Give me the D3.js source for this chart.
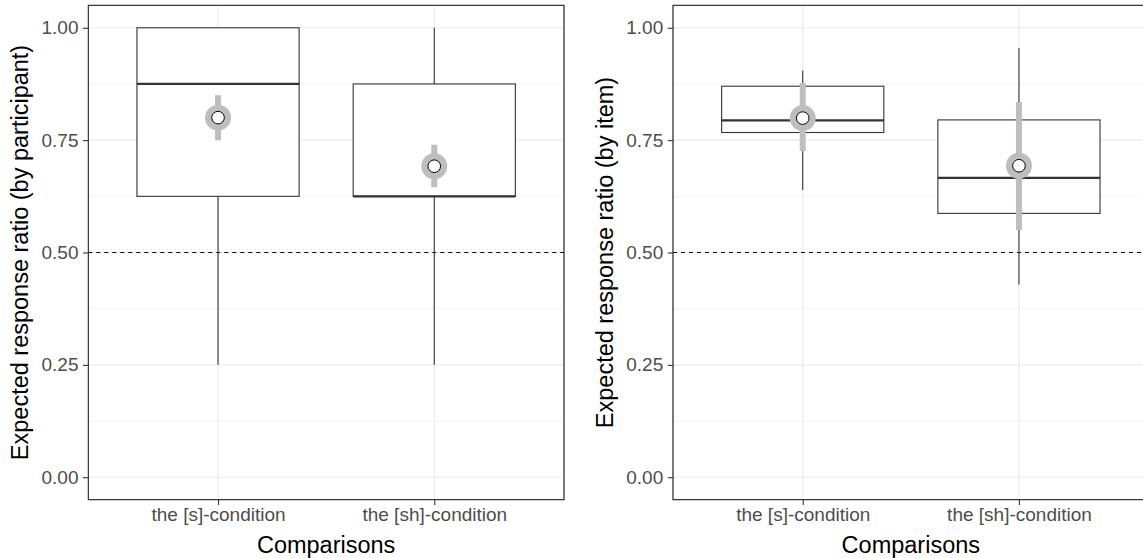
<!DOCTYPE html>
<html>
<head>
<meta charset="utf-8">
<script src="https://cdn.jsdelivr.net/npm/d3@7"></script>
<style>
  html, body { margin: 0; padding: 0; background: #fff; }
  svg { display: block; }
</style>
</head>
<body>
<svg id="chart" width="1143" height="558"></svg>
<script>
// ---------- data ----------
const categories = ["the [s]-condition", "the [sh]-condition"];
const yTicks = [0, 0.25, 0.5, 0.75, 1.0];
const yMinorTicks = [0.125, 0.375, 0.625, 0.875];

// Left panel: by participant
const participantLow    = [0.25, 0.25];
const participantQ1     = [0.625, 0.625];
const participantMedian = [0.875, 0.625];
const participantQ3     = [1.0, 0.875];
const participantHigh   = [1.0, 1.0];
const participantMean   = [0.80, 0.692];
const participantCILow  = [0.75, 0.645];
const participantCIHigh = [0.85, 0.74];

// Right panel: by item
const itemLow    = [0.639, 0.429];
const itemQ1     = [0.767, 0.587];
const itemMedian = [0.794, 0.666];
const itemQ3     = [0.870, 0.795];
const itemHigh   = [0.905, 0.955];
const itemMean   = [0.799, 0.693];
const itemCILow  = [0.726, 0.55];
const itemCIHigh = [0.877, 0.835];

const referenceLine = 0.5;

// ---------- layout ----------
const svg = d3.select("#chart");
const yTop = 5.3, yBottom = 499.7;
const font = "'Liberation Sans', Arial, Helvetica, sans-serif";
const y = d3.scaleLinear().domain([-0.05, 1.05]).range([yBottom, yTop]);

const panels = [
  { x0: 88.3, x1: 564, titleX: 28, title: "Expected response ratio (by participant)",
    low: participantLow, q1: participantQ1, med: participantMedian, q3: participantQ3, high: participantHigh,
    mean: participantMean, ciLow: participantCILow, ciHigh: participantCIHigh },
  { x0: 673, x1: 1148.7, titleX: 613, title: "Expected response ratio (by item)",
    low: itemLow, q1: itemQ1, med: itemMedian, q3: itemQ3, high: itemHigh,
    mean: itemMean, ciLow: itemCILow, ciHigh: itemCIHigh }
];

panels.forEach((p, pi) => {
  const x = d3.scaleLinear().domain([0.4, 2.6]).range([p.x0, p.x1]);
  const idx = categories.map((c, i) => i);
  const g = svg.append("g");

  const clipId = "clip" + pi;
  svg.append("clipPath").attr("id", clipId).append("rect")
    .attr("x", p.x0 - 1).attr("y", yTop - 1).attr("width", p.x1 - p.x0 + 2).attr("height", yBottom - yTop + 2);
  const pg = g.append("g").attr("clip-path", `url(#${clipId})`);

  pg.append("rect").attr("x", p.x0).attr("y", yTop).attr("width", p.x1 - p.x0)
    .attr("height", yBottom - yTop).attr("fill", "#fff");

  pg.selectAll(".minor").data(yMinorTicks).join("line")
    .attr("x1", p.x0).attr("x2", p.x1).attr("y1", d => y(d)).attr("y2", d => y(d))
    .attr("stroke", "#EBEBEB").attr("stroke-width", 0.6);
  pg.selectAll(".major").data(yTicks).join("line")
    .attr("x1", p.x0).attr("x2", p.x1).attr("y1", d => y(d)).attr("y2", d => y(d))
    .attr("stroke", "#EBEBEB").attr("stroke-width", 1.1);
  pg.selectAll(".vmajor").data(idx).join("line")
    .attr("x1", i => x(i + 1)).attr("x2", i => x(i + 1)).attr("y1", yTop).attr("y2", yBottom)
    .attr("stroke", "#EBEBEB").attr("stroke-width", 1.1);

  pg.append("line").attr("x1", p.x0).attr("x2", p.x1)
    .attr("y1", y(referenceLine)).attr("y2", y(referenceLine))
    .attr("stroke", "#000").attr("stroke-width", 1.1).attr("stroke-dasharray", "4,4");

  const hw = 0.375;
  pg.selectAll(".wu").data(idx).join("line")
    .attr("x1", i => x(i + 1)).attr("x2", i => x(i + 1))
    .attr("y1", i => y(p.q3[i])).attr("y2", i => y(p.high[i]))
    .attr("stroke", "#333").attr("stroke-width", 1.1);
  pg.selectAll(".wl").data(idx).join("line")
    .attr("x1", i => x(i + 1)).attr("x2", i => x(i + 1))
    .attr("y1", i => y(p.q1[i])).attr("y2", i => y(p.low[i]))
    .attr("stroke", "#333").attr("stroke-width", 1.1);
  pg.selectAll(".box").data(idx).join("rect")
    .attr("x", i => x(i + 1 - hw)).attr("width", i => x(i + 1 + hw) - x(i + 1 - hw))
    .attr("y", i => y(p.q3[i])).attr("height", i => y(p.q1[i]) - y(p.q3[i]))
    .attr("fill", "#fff").attr("stroke", "#333").attr("stroke-width", 1.1);
  pg.selectAll(".med").data(idx).join("line")
    .attr("x1", i => x(i + 1 - hw)).attr("x2", i => x(i + 1 + hw))
    .attr("y1", i => y(p.med[i])).attr("y2", i => y(p.med[i]))
    .attr("stroke", "#333").attr("stroke-width", 2.3);

  pg.selectAll(".ci").data(idx).join("line")
    .attr("x1", i => x(i + 1)).attr("x2", i => x(i + 1))
    .attr("y1", i => y(p.ciLow[i])).attr("y2", i => y(p.ciHigh[i]))
    .attr("stroke", "#BEBEBE").attr("stroke-width", 6);
  pg.selectAll(".ring").data(idx).join("circle")
    .attr("cx", i => x(i + 1)).attr("cy", i => y(p.mean[i])).attr("r", 13)
    .attr("fill", "#BEBEBE");
  pg.selectAll(".pt").data(idx).join("circle")
    .attr("cx", i => x(i + 1)).attr("cy", i => y(p.mean[i])).attr("r", 6.3)
    .attr("fill", "#fff").attr("stroke", "#000").attr("stroke-width", 1);

  pg.append("rect").attr("x", p.x0).attr("y", yTop).attr("width", p.x1 - p.x0)
    .attr("height", yBottom - yTop).attr("fill", "none")
    .attr("stroke", "#333").attr("stroke-width", 1.3);

  const ya = g.append("g").attr("transform", `translate(${p.x0},0)`)
    .call(d3.axisLeft(y).tickValues(yTicks).tickFormat(d3.format(".2f")).tickSize(5.3).tickPadding(4.5));
  ya.select(".domain").remove();
  ya.selectAll(".tick line").attr("stroke", "#333").attr("stroke-width", 1.1);
  ya.selectAll(".tick text").attr("fill", "#4D4D4D").style("font-size", "19px").style("font-family", font);

  const xa = g.append("g").attr("transform", `translate(0,${yBottom})`)
    .call(d3.axisBottom(x).tickValues([1, 2]).tickFormat(d => categories[d - 1]).tickSize(5.3).tickPadding(3));
  xa.select(".domain").remove();
  xa.selectAll(".tick line").attr("stroke", "#333").attr("stroke-width", 1.1);
  xa.selectAll(".tick text").attr("fill", "#4D4D4D").style("font-size", "19px").style("font-family", font);

  g.append("text").attr("x", (p.x0 + p.x1) / 2).attr("y", 553)
    .attr("text-anchor", "middle").style("font-size", "23.5px").style("font-family", font)
    .attr("fill", "#000").text("Comparisons");
  g.append("text").attr("transform", `translate(${p.titleX},${(yTop + yBottom) / 2}) rotate(-90)`)
    .attr("text-anchor", "middle").style("font-size", "23.5px").style("font-family", font)
    .attr("fill", "#000").text(p.title);
});
</script>
</body>
</html>
